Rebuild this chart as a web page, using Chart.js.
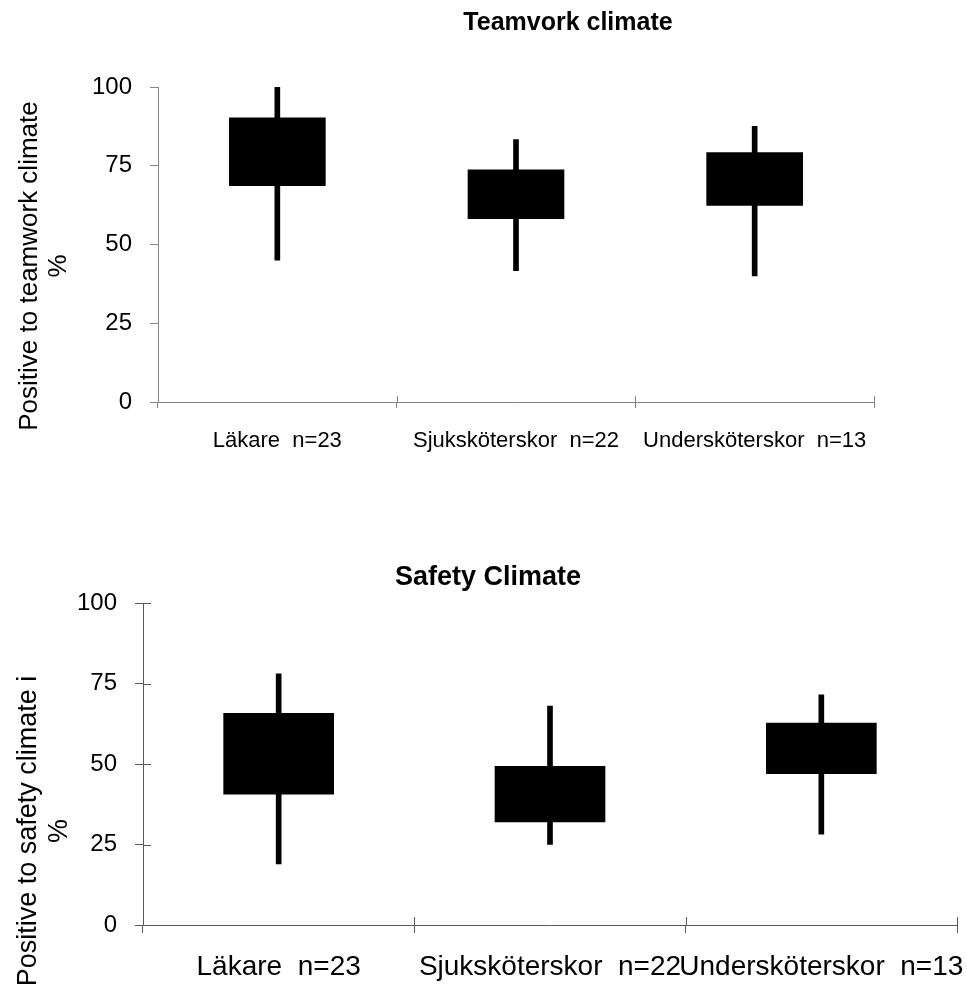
<!DOCTYPE html>
<html>
<head>
<meta charset="utf-8">
<script src="https://cdn.jsdelivr.net/npm/chart.js@4.4.0/dist/chart.umd.min.js"></script>
<style>
    html, body { margin: 0; padding: 0; background: #fff; }
    body { width: 967px; height: 996px; position: relative; overflow: hidden; }
    .box { position: absolute; left: 0; width: 967px; }
    #top { top: 0; height: 480px; }
    #bottom { top: 490px; height: 506px; }
</style>
</head>
<body>
<div class="box" id="top"><canvas id="teamChart"></canvas></div>
<div class="box" id="bottom"><canvas id="safetyChart"></canvas></div>

<script>
// ===== Data =====
const groups = ["Läkare  n=23", "Sjuksköterskor  n=22", "Undersköterskor  n=13"];
const yTicks = [0, 25, 50, 75, 100];

// teamwork climate: whisker min/max, box low/high
const teamMin  = [45, 41.7, 40];
const teamLow  = [68.7, 58.2, 62.4];
const teamHigh = [90.2, 73.7, 79.2];
const teamMax  = [100, 83.3, 87.5];

// safety climate
const safeMin  = [19, 25, 28.2];
const safeLow  = [40.6, 32, 47];
const safeHigh = [65.7, 49.3, 62.7];
const safeMax  = [78, 68, 71.5];

const FONT = "'Liberation Sans', Arial, sans-serif";

// draws titles, rotated axis titles and the inner half of crossing ticks
const extras = {
    id: "extras",
    afterDraw(chart, args, opts) {
        const ctx = chart.ctx;
        const area = chart.chartArea;
        ctx.save();
        ctx.strokeStyle = opts.tickColor;
        ctx.lineWidth = 1;
        if (opts.innerY) {
            const ys = chart.scales.y;
            ys.ticks.forEach((t, i) => {
                const py = Math.round(ys.getPixelForTick(i)) + 0.5;
                ctx.beginPath();
                ctx.moveTo(area.left, py);
                ctx.lineTo(area.left + opts.innerY, py);
                ctx.stroke();
            });
        }
        if (opts.innerX) {
            const n = chart.scales.x.ticks.length;
            for (let i = 0; i <= n; i++) {
                const px = Math.round(area.left + i * (area.right - area.left) / n) + 0.5;
                ctx.beginPath();
                ctx.moveTo(px, area.bottom);
                ctx.lineTo(px, area.bottom - opts.innerX);
                ctx.stroke();
            }
        }
        ctx.fillStyle = "#000";
        (opts.texts || []).forEach(t => {
            ctx.save();
            ctx.font = t.font;
            ctx.translate(t.x, t.y);
            if (t.rotate) ctx.rotate(-Math.PI / 2);
            ctx.textAlign = "center";
            ctx.textBaseline = t.baseline || "middle";
            ctx.fillText(t.text, 0, 0);
            ctx.restore();
        });
        ctx.restore();
    }
};

function makeChart(id, cfg) {
    const ranges = (a, b) => a.map((v, i) => [v, b[i]]);
    return new Chart(document.getElementById(id), {
        type: "bar",
        data: {
            labels: groups,
            datasets: [
                {
                    label: "range",
                    data: ranges(cfg.min, cfg.max),
                    backgroundColor: "#000",
                    barThickness: 5,
                    grouped: false
                },
                {
                    label: "box",
                    data: ranges(cfg.low, cfg.high),
                    backgroundColor: "#000",
                    barThickness: cfg.boxWidth,
                    grouped: false
                }
            ]
        },
        options: {
            responsive: true,
            maintainAspectRatio: false,
            animation: false,
            layout: { padding: cfg.padding },
            plugins: {
                legend: { display: false },
                tooltip: { enabled: false },
                title: { display: false },
                extras: cfg.extras
            },
            scales: {
                x: {
                    offset: true,
                    afterFit: s => {
                        s.height = cfg.xHeight;
                        // labels may run past the plot edge, as in the original
                        s.paddingLeft = 0;
                        s.paddingRight = 0;
                    },
                    grid: { offset: true, drawOnChartArea: false, tickLength: cfg.xTick, color: cfg.axisColor },
                    border: { color: cfg.axisColor, width: 1 },
                    ticks: {
                        autoSkip: false, maxRotation: 0, minRotation: 0,
                        padding: cfg.xPad, color: "#000",
                        font: { family: FONT, size: cfg.xFont }
                    }
                },
                y: {
                    min: 0, max: 100,
                    afterFit: s => { s.width = cfg.yWidth; },
                    afterBuildTicks: s => { s.ticks = yTicks.map(v => ({ value: v })); },
                    grid: { drawOnChartArea: false, tickLength: cfg.yTick, color: cfg.axisColor },
                    border: { color: cfg.axisColor, width: 1 },
                    ticks: {
                        padding: 18, color: "#000",
                        font: { family: FONT, size: 24 }
                    }
                }
            }
        },
        plugins: [extras]
    });
}

// ===== Teamwork climate =====
makeChart("teamChart", {
    min: teamMin, low: teamLow, high: teamHigh, max: teamMax,
    boxWidth: 96,
    padding: { left: 0, right: 93, top: 87, bottom: 0 },
    xHeight: 78, yWidth: 158,
    xTick: 6, yTick: 8, xPad: 20, xFont: 22,
    axisColor: "#868686",
    extras: {
        tickColor: "#868686", innerX: 6, innerY: 0,
        texts: [
            { text: "Teamvork climate", x: 568, y: 30, baseline: "alphabetic", font: "bold 25px " + FONT },
            { text: "Positive to teamwork climate", x: 30, y: 266, rotate: true, font: "26px " + FONT },
            { text: "%", x: 59, y: 266, rotate: true, font: "26px " + FONT }
        ]
    }
});

// ===== Safety climate =====
makeChart("safetyChart", {
    min: safeMin, low: safeLow, high: safeHigh, max: safeMax,
    boxWidth: 110,
    padding: { left: 0, right: 10, top: 113, bottom: 0 },
    xHeight: 71, yWidth: 143,
    xTick: 8, yTick: 8, xPad: 17, xFont: 28,
    axisColor: "#595959",
    extras: {
        tickColor: "#595959", innerX: 8, innerY: 8,
        texts: [
            { text: "Safety Climate", x: 488, y: 95, baseline: "alphabetic", font: "bold 27px " + FONT },
            { text: "Positive to safety climate i", x: 29, y: 341, rotate: true, font: "27px " + FONT },
            { text: "%", x: 60, y: 341, rotate: true, font: "27px " + FONT }
        ]
    }
});
</script>
</body>
</html>
